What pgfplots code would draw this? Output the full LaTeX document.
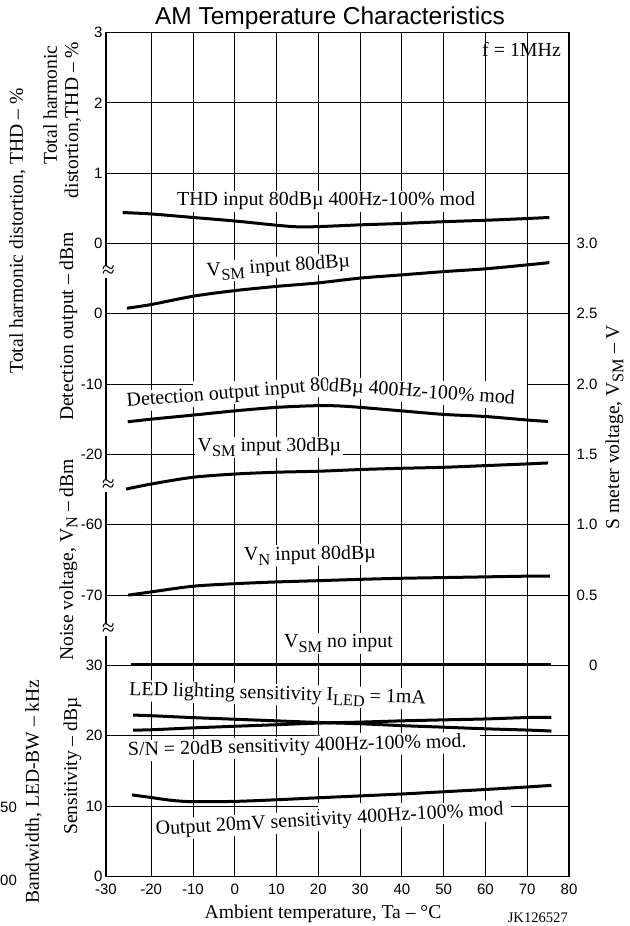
\documentclass[border=0pt]{standalone}
\usepackage{fontspec}
\setmainfont{Liberation Serif}
\newfontfamily\arial{Liberation Sans}
\usepackage{pgfplots}
\pgfplotsset{compat=1.18}
\usepackage{pgfplotstable}

\newcommand\lf{\fontsize{19.9}{22}\selectfont}
\newcommand\af{\fontsize{19.6}{22}\selectfont}
\newcommand\tf{\arial\fontsize{15}{17}\selectfont}
\newcommand\sub[1]{\raisebox{-0.22em}{\fontsize{16.3}{16}\selectfont #1}}

% THD input 80dBu 400Hz-100% mod  (THD, %)
\pgfplotstableread{
t v
-26.8 0.44
-20 0.42
-10 0.37
0 0.32
10 0.26
15 0.237
20 0.24
30 0.265
40 0.285
50 0.31
60 0.33
70 0.355
75.3 0.37
}\thd
% VSM input 80dBu (V)
\pgfplotstableread{
t v
-25.8 2.54
-20 2.566
-10 2.625
0 2.665
10 2.695
20 2.72
30 2.754
40 2.777
50 2.80
60 2.82
70 2.848
75.3 2.864
}\vsmA
% Detection output (dBm)
\pgfplotstableread{
t v
-25.6 -15.35
-20 -14.98
-10 -14.4
0 -13.8
10 -13.3
20 -13.05
25 -13.1
30 -13.3
40 -13.8
50 -14.3
60 -14.6
70 -15.1
75 -15.3
}\det
% VSM input 30dBu (V)
\pgfplotstableread{
t v
-26 1.254
-20 1.29
-10 1.338
0 1.361
10 1.374
20 1.381
30 1.393
40 1.402
50 1.409
60 1.421
70 1.433
75 1.44
}\vsmB
% VN input 80dBu (dBm)
\pgfplotstableread{
t v
-25.5 -70.0
-20 -69.54
-10 -68.73
0 -68.37
10 -68.12
20 -67.94
30 -67.75
40 -67.6
50 -67.5
60 -67.4
70 -67.3
75.5 -67.3
}\vn
% VSM no input (V)
\pgfplotstableread{
t v
-24.9 0.01
25 0.01
75.8 0.01
}\vsmC
% LED lighting sensitivity (dBu)
\pgfplotstableread{
t v
-24.3 22.95
-20 22.86
-10 22.59
0 22.36
10 22.13
20 21.9
30 21.72
40 21.45
50 21.23
60 21.0
70 20.82
75.8 20.68
}\led
% S/N = 20dB sensitivity (dBu)
\pgfplotstableread{
t v
-24.3 20.82
-20 20.86
-10 21.13
0 21.36
10 21.58
20 21.81
30 21.95
40 22.13
50 22.27
60 22.4
70 22.6
75.8 22.63
}\sn
% Output 20mV sensitivity (dBu)
\pgfplotstableread{
t v
-24.6 11.6
-20 11.23
-15 10.82
-10 10.64
0 10.68
10 10.91
20 11.19
30 11.46
40 11.73
50 12.05
60 12.37
70 12.73
75.8 12.96
}\outp

\pgfplotsset{
  base/.style={
    at={(106pt,49.5pt)}, anchor=south west,
    scale only axis, width=463pt, height=844pt,
    xmin=-30.8, xmax=80, ymin=0, ymax=12,
    major tick length=0pt,
    axis line style={line width=1.6pt},
    clip=false,
  },
  curve/.style={black, line width=3pt, smooth},
}

\begin{document}
\begin{tikzpicture}
\useasboundingbox (0,0) rectangle (629pt,926pt);
\begin{axis}[base,
  xtick={-30.8,-20,-10,0,10,20,30,40,50,60,70,80},
  xticklabels={-30,-20,-10,0,10,20,30,40,50,60,70,80},
  ytick={0,1,2,3,4,5,6,7,8,9,10,11,12},
  yticklabels={0,10,20,30,-70,-60,-20,-10,0,0,1,2,3},
  grid=major, major grid style={black, line width=0.8pt},
  ticklabel style={font=\tf},
  xticklabel style={yshift=-4pt},
]
\fill[white] (axis cs:-10,6.96) rectangle (axis cs:70,7.04);
\fill[white] (axis cs:-9.5,5.96) rectangle (axis cs:26,6.04);
\fill[white] (axis cs:20.4,1.96) rectangle (axis cs:58.7,2.04);
\fill[white] (axis cs:19.9,0.96) rectangle (axis cs:66.1,1.04);
\end{axis}

\begin{scope}[yshift=926pt, x=1pt, y=-1pt,
  lab/.style={font=\lf, fill=white, inner xsep=1pt, inner ysep=1.5pt},
  ax/.style={font=\af, rotate=90, anchor=base, inner sep=0pt}]
% title
\node[font=\arial\fontsize{24.5}{26}\selectfont, anchor=base, inner sep=0pt] at (330,25) {AM Temperature Characteristics};
% axis labels
\node[ax] at (23,231) {Total harmonic distortion, THD – \%};
\node[ax] at (57,105) {Total harmonic};
\node[ax] at (78,120) {distortion,THD – \%};
\node[ax] at (73,326.5) {Detection output – dBm};
\node[ax] at (73,560) {Noise voltage, V\sub{N} – dBm};
\node[ax] at (77,766) {Sensitivity – dBµ};
\node[ax] at (39,791.5) {Bandwidth, LED-BW – kHz};
\node[ax] at (619,427) {S meter voltage, V\sub{SM} – V};
\node[font=\af, anchor=base, inner sep=0pt] at (323,918) {Ambient temperature, Ta – °C};
\node[font=\fontsize{14.6}{16}\selectfont, anchor=base east, inner sep=0pt] at (568,923) {JK126527};
\node[font=\tf, anchor=base west, inner sep=0pt] at (0,813) {50};
\node[font=\tf, anchor=base west, inner sep=0pt] at (0,886) {00};
% breaks
\foreach \yy in {272,486,630}
  \node[font=\fontsize{23}{16}\selectfont, fill=white, inner sep=0pt] at (108.5,\yy) {≈};
% curve labels
\node[anchor=base west, font=\lf, inner sep=0pt] at (482,57) {f = 1MHz};
\node[lab, anchor=base west] at (176,206) {THD input 80dBµ 400Hz-100\% mod};
\node[lab, anchor=base west, rotate=4] at (206,277) {V\sub{SM} input 80dBµ};
\node[lab, anchor=base west, rotate=4.7] at (126,407) {Detection output input 80};
\node[lab, anchor=base west, rotate=-4] at (327.5,391) {dBµ 400Hz-100\% mod};
\node[lab, anchor=base west] at (196.5,452) {V\sub{SM} input 30dBµ};
\node[lab, anchor=base west, rotate=1] at (243,561) {V\sub{N} input 80dBµ};
\node[lab, anchor=base west] at (283,648) {V\sub{SM} no input};
\node[lab, anchor=base west, rotate=-1.7] at (128,695) {LED lighting sensitivity I\sub{LED} = 1mA};
\node[lab, anchor=base west, rotate=1.5] at (127,756) {S/N = 20dB sensitivity 400Hz-100\% mod.};
\node[lab, anchor=base west, rotate=3.3] at (155,835) {Output 20mV sensitivity 400Hz-100\% mod};
\end{scope}

\begin{axis}[base,
  axis x line=none, axis y line*=right,
  ytick={3,4,5,6,7,8,9},
  yticklabels={0,0.5,1.0,1.5,2.0,2.5,3.0},
  yticklabel style={font=\tf, anchor=east, xshift=32pt},
]
\addplot[curve] table[x=t, y expr={9+\thisrow{v}}] {\thd};
\addplot[curve] table[x=t, y expr={3+2*\thisrow{v}}] {\vsmA};
\addplot[curve] table[x=t, y expr={8+\thisrow{v}/10}] {\det};
\addplot[curve] table[x=t, y expr={3+2*\thisrow{v}}] {\vsmB};
\addplot[curve] table[x=t, y expr={4+(\thisrow{v}+70)/10}] {\vn};
\addplot[black, line width=3pt] table[x=t, y expr={3+2*\thisrow{v}}] {\vsmC};
\addplot[curve] table[x=t, y expr={\thisrow{v}/10}] {\led};
\addplot[curve] table[x=t, y expr={\thisrow{v}/10}] {\sn};
\addplot[curve] table[x=t, y expr={\thisrow{v}/10}] {\outp};
\end{axis}
\end{tikzpicture}
\end{document}
